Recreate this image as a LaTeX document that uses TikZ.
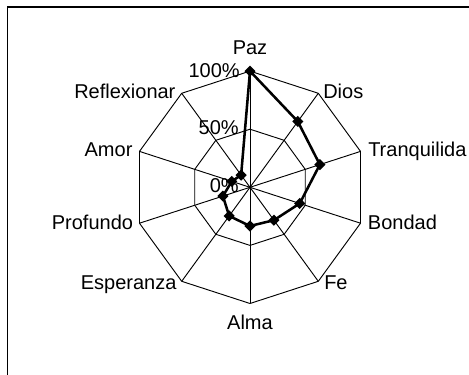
\documentclass[tikz,border=0pt]{standalone}
\usepackage{fontspec}
\setmainfont{Liberation Sans}
\usetikzlibrary{shapes.geometric}
\begin{document}
\begin{tikzpicture}[x=0.75pt,y=0.75pt,
  grid/.style={line width=0.7pt,black},
  series/.style={line width=1.9pt,black,line join=miter},
  mark/.style={},
  datamark/.style={diamond,fill=black,inner sep=0pt,minimum width=8.5pt,minimum height=8.5pt},
  lbl/.style={inner sep=0pt,font=\fontsize{15}{18}\selectfont},
  frame/.style={line width=1pt,black}]
\useasboundingbox (-250,-187.7) rectangle (219,187.3);
% frame
\coordinate (fbl) at (-242.5,-187.7);
\coordinate (ftl) at (-242.5,180.3);
\coordinate (ftr) at (219,180.3);
\draw[frame] (fbl) -- (ftl) -- (ftr);
% grid
\def\R{116.2}
\coordinate (c) at (0,0);
\foreach \i in {0,...,9}{
  \coordinate (o\i) at ({90-36*\i}:\R);
  \coordinate (h\i) at ({90-36*\i}:{\R/2});
}
\foreach \i in {0,...,9}{\draw[grid] (c) -- (o\i);}
\draw[grid] (o0) -- (o1) -- (o2) -- (o3) -- (o4) -- (o5) -- (o6) -- (o7) -- (o8) -- (o9) -- cycle;
\draw[grid] (h0) -- (h1) -- (h2) -- (h3) -- (h4) -- (h5) -- (h6) -- (h7) -- (h8) -- (h9) -- cycle;
% category labels
\node[lbl,anchor=base] (lPaz) at (0,132.3) {Paz};
\node[lbl,anchor=base west] (lDios) at (73,89) {Dios};
\node[lbl,anchor=base west] (lTra) at (118,30.3) {Tranquilida};
\node[lbl,anchor=base west] (lBon) at (117.7,-42.7) {Bondad};
\node[lbl,anchor=base west] (lFe) at (74,-102.7) {Fe};
\node[lbl,anchor=base] (lAlma) at (0,-142.7) {Alma};
\node[lbl,anchor=base east] (lEsp) at (-73.3,-102.7) {Esperanza};
\node[lbl,anchor=base east] (lPro) at (-116.7,-42.7) {Profundo};
\node[lbl,anchor=base east] (lAmor) at (-117.3,30.6) {Amor};
\node[lbl,anchor=base east] (lRef) at (-74.3,89) {Reflexionar};
% axis labels
\node[lbl,anchor=base east] (a100) at (-10,110) {100\%};
\node[lbl,anchor=base east] (a50) at (-11,52.3) {50\%};
\node[lbl,anchor=base east] (a0) at (-11,-5.4) {0\%};
% data
\foreach \i/\v in {0/1.0,1/0.70,2/0.632,3/0.45,4/0.35,5/0.333,6/0.305,7/0.245,8/0.165,9/0.13}{
  \coordinate (d\i) at ({90-36*\i}:{\v*\R});
}
\draw[series] (d0) -- (d1) -- (d2) -- (d3) -- (d4) -- (d5) -- (d6) -- (d7) -- (d8) -- (d9) -- cycle;
\foreach \i in {0,...,9}{\node[datamark] (m\i) at (d\i) {};}
\end{tikzpicture}
\end{document}
